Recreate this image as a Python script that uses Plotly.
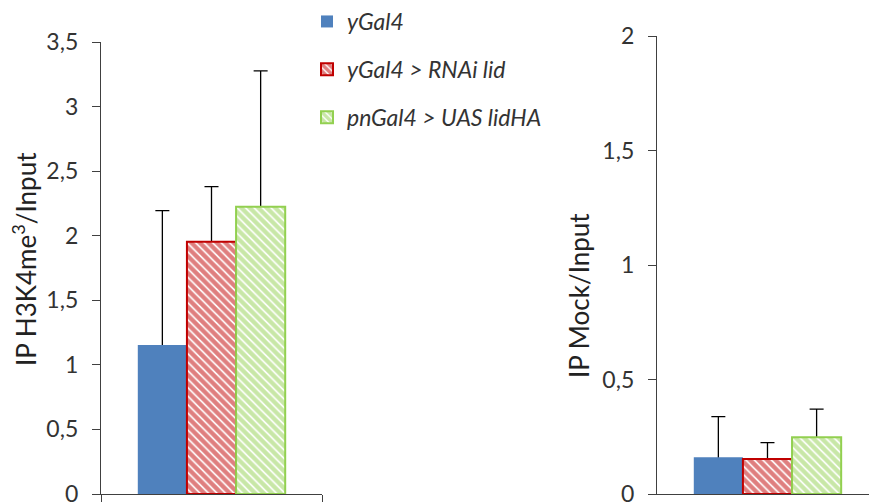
import plotly.graph_objects as go

series = ["yGal4", "yGal4 > RNAi lid", "pnGal4 > UAS lidHA"]
category = [""]
h3k4_values = [1.154, 1.954, 2.225]
h3k4_err = [1.04, 0.426, 1.051]
mock_values = [0.160, 0.153, 0.248]
mock_err = [0.178, 0.071, 0.123]
left_ticks = [0, 0.5, 1, 1.5, 2, 2.5, 3, 3.5]
left_ticklabels = ["0", "0,5", "1", "1,5", "2", "2,5", "3", "3,5"]
right_ticks = [0, 0.5, 1, 1.5, 2]
right_ticklabels = ["0", "0,5", "1", "1,5", "2"]

colors = ["#4F81BD", "#C00000", "#92D050"]
patterns = [None, "\\", "\\"]
FONT = "Lato"
TXT = "#333333"

fig = go.Figure()

def add(vals, errs, xa, ya, show, tag):
    # error bars first (on transparent bars), so the real bars cover the lower part
    for i, name in enumerate(series):
        fig.add_trace(go.Bar(
            x=category, y=[vals[i]], name=name, offsetgroup=f"{tag}{i}",
            marker=dict(color="rgba(0,0,0,0)", line=dict(width=0)),
            error_y=dict(type="data", array=[errs[i]], arrayminus=[vals[i]], symmetric=False,
                         color="#000000", thickness=1.3, width=7),
            xaxis=xa, yaxis=ya, showlegend=False, hoverinfo="skip",
        ))
    for i, name in enumerate(series):
        if patterns[i]:
            marker = dict(
                color="white",
                pattern=dict(shape=patterns[i], fgcolor=colors[i], bgcolor="white",
                             size=6, solidity=0.72, fillmode="overlay"),
                line=dict(color=colors[i], width=2),
            )
        else:
            marker = dict(color=colors[i], line=dict(width=0))
        fig.add_trace(go.Bar(
            x=category, y=[vals[i]], name=name, marker=marker, offsetgroup=f"{tag}{i}",
            xaxis=xa, yaxis=ya, showlegend=show, legendgroup=name,
        ))

add(h3k4_values, h3k4_err, "x", "y", True, "a")
add(mock_values, mock_err, "x2", "y2", False, "b")

axis_common = dict(showline=True, linecolor="#404040", linewidth=1.3, zeroline=False,
                   showgrid=False, ticks="outside", tickcolor="#404040", ticklen=8,
                   tickfont=dict(family=FONT, size=23, color=TXT), ticklabelstandoff=9,
                   ticklabeloverflow="allow", automargin=False)

fig.update_layout(
    width=869, height=502,
    margin=dict(l=0, r=0, t=0, b=0, autoexpand=False),
    paper_bgcolor="white", plot_bgcolor="white",
    barmode="group", bargap=0.333, bargroupgap=0,
    font=dict(family=FONT, color=TXT),
    xaxis=dict(domain=[101/869, 322/869], anchor="y", showline=True, linecolor="#404040",
               linewidth=1.3, ticks="outside", tickson="boundaries", ticklen=8,
               tickcolor="#404040", showticklabels=False, showgrid=False, automargin=False),
    yaxis=dict(domain=[8/502, 460/502], anchor="x", range=[0, 3.5],
               tickvals=left_ticks, ticktext=left_ticklabels, **axis_common),
    xaxis2=dict(domain=[657/869, 1.0], anchor="y2", range=[-0.5, 0.5 * (869 - 767) / 111],
                showline=True, linecolor="#404040", linewidth=1.3, ticks="",
                showticklabels=False, showgrid=False, automargin=False),
    yaxis2=dict(domain=[8/502, 466/502], anchor="x2", range=[0, 2],
                tickvals=right_ticks, ticktext=right_ticklabels, **axis_common),
    legend=dict(x=307/869, y=1.0, xanchor="left", yanchor="top",
                font=dict(family=FONT, size=23, color=TXT, style="italic"),
                tracegroupgap=15, bgcolor="rgba(0,0,0,0)", traceorder="grouped"),
    annotations=[
        dict(text="IP H3K4me<sup>3</sup>/Input", textangle=-90, x=24/869, y=(502-259)/502,
             xref="paper", yref="paper", showarrow=False, xanchor="center", yanchor="middle",
             font=dict(family=FONT, size=26, color="#222222")),
        dict(text="IP Mock/Input", textangle=-90, x=579/869, y=(502-296)/502,
             xref="paper", yref="paper", showarrow=False, xanchor="center", yanchor="middle",
             font=dict(family=FONT, size=26, color="#222222")),
    ],
)

post = ("document.body.style.margin='0';document.body.style.padding='0';"
        "var d=document.getElementById('{plot_id}');d.style.position='absolute';"
        "d.style.left='0px';d.style.top='0px';")
fig.write_html("out.html", post_script=post, config={"displayModeBar": False})
